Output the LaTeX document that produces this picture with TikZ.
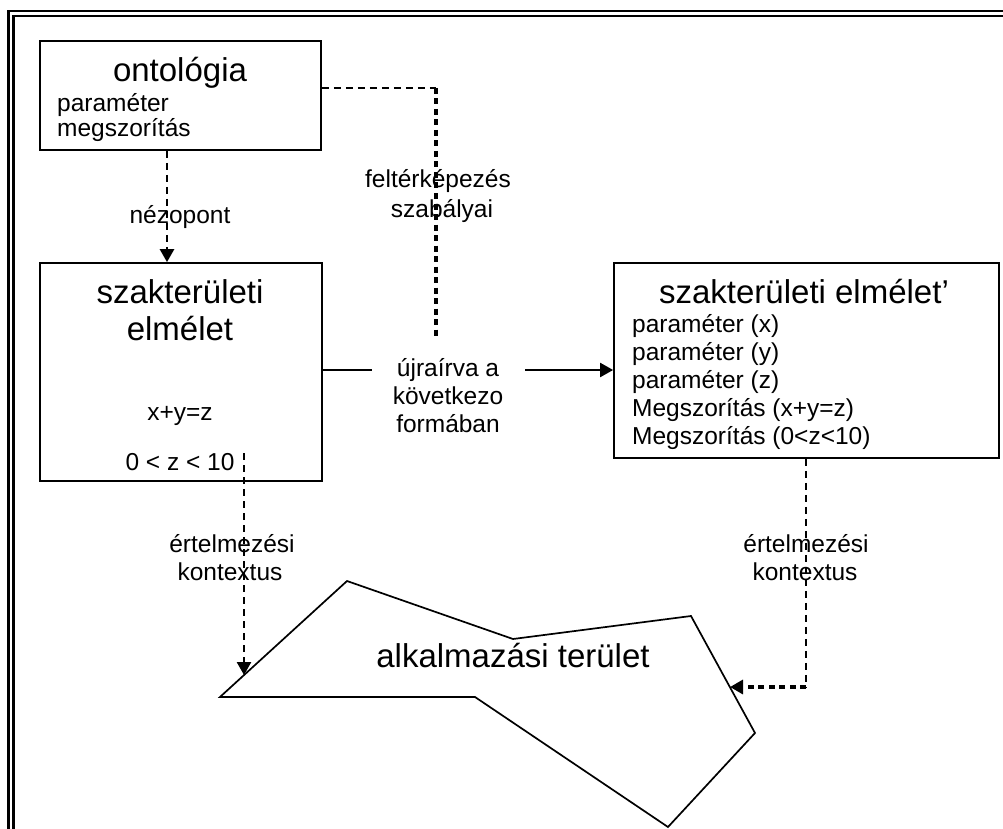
\documentclass[tikz,border=0pt]{standalone}
\usepackage{fontspec}
\setmainfont{Liberation Sans}
\usetikzlibrary{arrows.meta}
\begin{document}
\begin{tikzpicture}[x=1pt,y=-1pt,
  box/.style={draw,line width=1.7pt,rectangle,inner sep=0pt},
  title/.style={font=\fontsize{33}{37}\selectfont,anchor=base,inner sep=0pt},
  small/.style={font=\fontsize{24.5}{28}\selectfont,anchor=base,inner sep=0pt},
  smallleft/.style={small,anchor=base west},
  dashlink/.style={line width=2.5pt,dash pattern=on 7pt off 5pt},
  boldlink/.style={line width=3.2pt,dash pattern=on 6pt off 4.5pt},
  tip/.style={-{Triangle[length=13pt,width=14pt]}},
  frame/.style={line width=2.4pt},
  outline/.style={line width=1.7pt,line join=miter}]

\useasboundingbox (0,0) rectangle (1003,829);

% double frame along the top and left edges
\draw[frame] (1010,11.2) -- (8.3,11.2) -- (8.3,840);
\draw[frame] (1010,15.8) -- (13.4,15.8) -- (13.4,840);

% ontology box
\node[box,minimum width=281pt,minimum height=109pt] (onto) at (180.5,95.5) {};
\node[title] (ontot) at (180,82) {ontológia};
\node[smallleft] (ontop) at (57,112) {paraméter};
\node[smallleft] (ontom) at (57,137) {megszorítás};

% domain theory box
\node[box,minimum width=282pt,minimum height=218pt] (szak) at (181,372) {};
\node[title] (szakt1) at (180,303) {szakterületi};
\node[title] (szakt2) at (180,340) {elmélet};
\node[small] (szake) at (180,420) {x+y=z};
\node[small] (szakc) at (180,470) {0 < z < 10};

% rewritten domain theory box
\node[box,minimum width=385pt,minimum height=195pt] (rbox) at (806.5,360.5) {};
\node[title] (rboxt) at (804,303) {szakterületi elmélet’};
\node[smallleft] (rp1) at (632,332) {paraméter (x)};
\node[smallleft] (rp2) at (632,360) {paraméter (y)};
\node[smallleft] (rp3) at (632,388) {paraméter (z)};
\node[smallleft] (rm1) at (632,416) {Megszorítás (x+y=z)};
\node[smallleft] (rm2) at (632,444) {Megszorítás (0<z<10)};

% application area
\coordinate (a1) at (220,697);
\coordinate (a2) at (347,581);
\coordinate (a3) at (513,639);
\coordinate (a4) at (691,616);
\coordinate (a5) at (755,733);
\coordinate (a6) at (668,827);
\coordinate (a7) at (475,697);
\draw[outline] (a1) -- (a2) -- (a3) -- (a4) -- (a5) -- (a6) -- (a7) -- cycle;
\node[title] (area) at (513,667) {alkalmazási terület};

% viewpoint link
\coordinate (nz) at (167,0);
\draw[dashlink,tip] (onto.south -| nz) -- (szak.north -| nz);
\node[small] (nezl) at (180,223) {nézopont};

% mapping rules link
\coordinate (fk) at (436,88);
\coordinate (fkend) at (436,340);
\draw[dashlink] (onto.east |- fk) -- (fk);
\draw[boldlink] (fk) -- (fkend);
\node[small] (fkl1) at (438,188) {feltérképezés};
\node[small] (fkl2) at (442,217) {szabályai};

% rewrite link
\coordinate (ujl) at (372,370);
\coordinate (ujr) at (525,370);
\draw[line width=2.1pt] (szak.east |- ujl) -- (ujl);
\draw[line width=2.1pt,tip] (ujr) -- (rbox.west |- ujr);
\node[small] (uj1) at (448,376) {újraírva a};
\node[small] (uj2) at (448,404) {következo};
\node[small] (uj3) at (448,432) {formában};

% interpretation context links
\coordinate (lstart) at (244,453);
\coordinate (ltip) at (244,675);
\draw[dashlink,tip] (lstart) -- (ltip);
\node[small] (lc1) at (232,552) {értelmezési};
\node[small] (lc2) at (230,580) {kontextus};

\coordinate (rbend) at (806,687);
\coordinate (rtip) at (730,687);
\draw[dashlink] (rbox.south -| rbend) -- (rbend);
\draw[boldlink,tip] (rbend) -- (rtip);
\node[small] (rc1) at (806,552) {értelmezési};
\node[small] (rc2) at (805,580) {kontextus};
\end{tikzpicture}
\end{document}
